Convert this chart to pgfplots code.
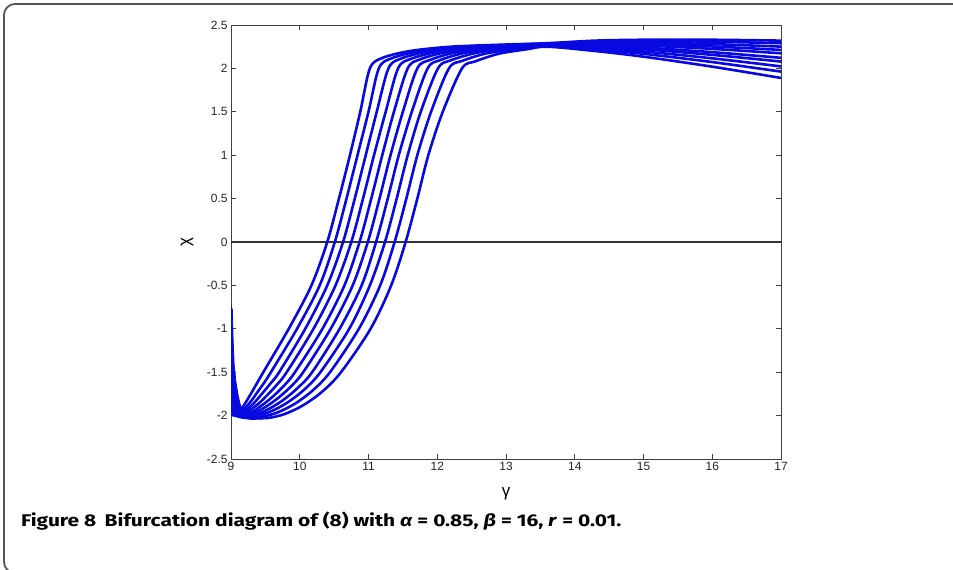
\documentclass[border=0pt]{standalone}
\usepackage{pgfplots}
\pgfplotsset{compat=1.18}
\usepackage{fontspec}
\setmainfont{Liberation Sans}
\newfontfamily\capfont{Fira Sans}
\definecolor{cblue}{RGB}{8,8,225}
\definecolor{frame}{RGB}{85,85,85}
\begin{document}
\begin{tikzpicture}[x=1bp,y=1bp]
\useasboundingbox (0,0) rectangle (953,-570);
\draw[line width=1.8bp, frame, rounded corners=11bp] (990,-4) -- (4,-4) -- (4,-573) -- (990,-573);
\begin{axis}[
  at={(231bp,-459bp)}, anchor=south west,
  scale only axis, width=550bp, height=434bp,
  xmin=9, xmax=17, ymin=-2.5, ymax=2.5,
  xtick={9,10,11,12,13,14,15,16,17},
  xticklabels={9,10,11,12,13,14,15,16,17},
  ytick={-2.5,-2,-1.5,-1,-0.5,0,0.5,1,1.5,2,2.5},
  yticklabels={-2.5,-2,-1.5,-1,-0.5,0,0.5,1,1.5,2,2.5},
  tick align=inside, major tick length=5bp,
  axis line style={draw=black!75, line width=0.9bp},
  tick style={draw=black!75, line width=0.8bp},
  tick label style={font=\fontsize{12}{13}\selectfont, text=black!85},
  xlabel={γ}, ylabel={χ},
  xlabel style={font=\fontsize{17}{18}\selectfont, at={(axis description cs:0.5,-0.081)}, anchor=center},
  ylabel style={font=\fontsize{17}{18}\selectfont, at={(axis description cs:-0.08,0.5)}, anchor=center},
  crv/.style={draw=cblue, line width=2.6bp, smooth, tension=0.5, mark=none, line join=round, line cap=round},
]
\addplot[black!80, line width=1.3bp, mark=none] coordinates {(9,0) (17,0)};
\addplot[draw=cblue, fill=cblue, line width=0.8bp, mark=none] coordinates {(9.0,-0.74) (9.02,-0.78) (9.03,-1.1) (9.045,-1.4) (9.07,-1.6) (9.10,-1.75) (9.13,-1.86) (9.16,-1.92) (9.3,-1.99) (9.45,-2.04) (9.3,-2.045) (9.15,-2.03) (9.0,-2.0)} -- cycle;
% curve 0
\addplot[crv] coordinates {(9.16,-1.92) (9.31,-1.72) (9.47,-1.5) (9.84,-1.0) (10.17,-0.5) (10.40,0) (10.57,0.5) (10.73,1.0) (10.88,1.5) (11.02,2.0) (11.20,2.12) (11.60,2.20) (12.20,2.25) (13.0,2.275) (13.6,2.29) (14.3,2.32) (15,2.33) (16,2.33) (17,2.32)};
% curve 1
\addplot[crv] coordinates {(9.189,-1.931) (9.294,-1.831) (9.388,-1.726) (9.487,-1.616) (9.58,-1.5) (9.96,-1.0) (10.29,-0.5) (10.51,0) (10.68,0.5) (10.84,1.0) (11.00,1.5) (11.15,2.0) (11.335,2.116) (11.73,2.197) (12.31,2.247) (13.6,2.287) (14.3,2.312) (15,2.316) (16,2.308) (17,2.29)};
% curve 2
\addplot[crv] coordinates {(9.218,-1.942) (9.344,-1.847) (9.457,-1.742) (9.577,-1.627) (9.70,-1.5) (10.08,-1.0) (10.40,-0.5) (10.63,0) (10.80,0.5) (10.96,1.0) (11.12,1.5) (11.29,2.0) (11.47,2.112) (11.86,2.194) (12.42,2.244) (13.6,2.284) (14.3,2.301) (15,2.299) (16,2.280) (17,2.251)};
% curve 3
\addplot[crv] coordinates {(9.248,-1.954) (9.395,-1.866) (9.532,-1.760) (9.672,-1.640) (9.81,-1.5) (10.20,-1.0) (10.52,-0.5) (10.75,0) (10.92,0.5) (11.08,1.0) (11.25,1.5) (11.43,2.0) (11.61,2.108) (12.00,2.191) (12.54,2.241) (13.6,2.28) (14.3,2.29) (15,2.281) (16,2.253) (17,2.213)};
% curve 4
\addplot[crv] coordinates {(9.16,-1.93) (9.279,-1.965) (9.447,-1.883) (9.612,-1.778) (9.775,-1.652) (9.93,-1.5) (10.33,-1.0) (10.65,-0.5) (10.87,0) (11.04,0.5) (11.20,1.0) (11.37,1.5) (11.57,2.0) (11.75,2.104) (12.13,2.188) (12.65,2.238) (13.6,2.276) (14.3,2.279) (15,2.264) (16,2.225) (17,2.174)};
% curve 5
\addplot[crv] coordinates {(9.16,-1.935) (9.309,-1.977) (9.498,-1.902) (9.686,-1.797) (9.870,-1.666) (10.05,-1.5) (10.45,-1.0) (10.77,-0.5) (10.99,0) (11.16,0.5) (11.32,1.0) (11.50,1.5) (11.71,2.0) (11.90,2.099) (12.27,2.185) (12.77,2.235) (13.6,2.272) (14.3,2.265) (15,2.240) (16,2.187) (17,2.122)};
% curve 6
\addplot[crv] coordinates {(9.16,-1.94) (9.341,-1.989) (9.553,-1.922) (9.764,-1.818) (9.972,-1.680) (10.18,-1.5) (10.58,-1.0) (10.90,-0.5) (11.11,0) (11.28,0.5) (11.44,1.0) (11.63,1.5) (11.86,2.0) (12.04,2.095) (12.41,2.181) (12.89,2.231) (13.6,2.268) (14.3,2.253) (15,2.221) (16,2.156) (17,2.079)};
% curve 7
\addplot[crv] coordinates {(9.16,-1.945) (9.373,-2.001) (9.607,-1.942) (9.841,-1.839) (10.073,-1.695) (10.30,-1.5) (10.72,-1.0) (11.02,-0.5) (11.24,0) (11.41,0.5) (11.57,1.0) (11.76,1.5) (12.01,2.0) (12.19,2.091) (12.56,2.178) (13.01,2.228) (13.6,2.262) (14.3,2.237) (15,2.195) (16,2.116) (17,2.023)};
% curve 8
\addplot[crv] coordinates {(9.16,-1.95) (9.409,-2.015) (9.668,-1.966) (9.928,-1.864) (10.185,-1.713) (10.44,-1.5) (10.86,-1.0) (11.17,-0.5) (11.38,0) (11.55,0.5) (11.71,1.0) (11.91,1.5) (12.17,2.0) (12.36,2.086) (12.72,2.174) (13.15,2.224) (13.6,2.257) (14.3,2.220) (15,2.168) (16,2.073) (17,1.963)};
% curve 9
\addplot[crv] coordinates {(9.16,-1.96) (9.45,-2.03) (9.738,-1.993) (10.025,-1.892) (10.313,-1.733) (10.60,-1.5) (11.03,-1.0) (11.33,-0.5) (11.54,0) (11.71,0.5) (11.87,1.0) (12.08,1.5) (12.36,2.0) (12.55,2.08) (12.90,2.17) (13.30,2.22) (13.6,2.25) (14.3,2.20) (15,2.135) (16,2.02) (17,1.89)};
\end{axis}
\node[anchor=west, inner sep=0pt] at (21,-521) {\resizebox{600bp}{\height}{\capfont\bfseries\fontsize{17}{20}\selectfont Figure 8\hspace{0.4em}Bifurcation diagram of (8) with \textit{α} = 0.85, \textit{β} = 16, \textit{r} = 0.01.}};
\end{tikzpicture}
\end{document}
